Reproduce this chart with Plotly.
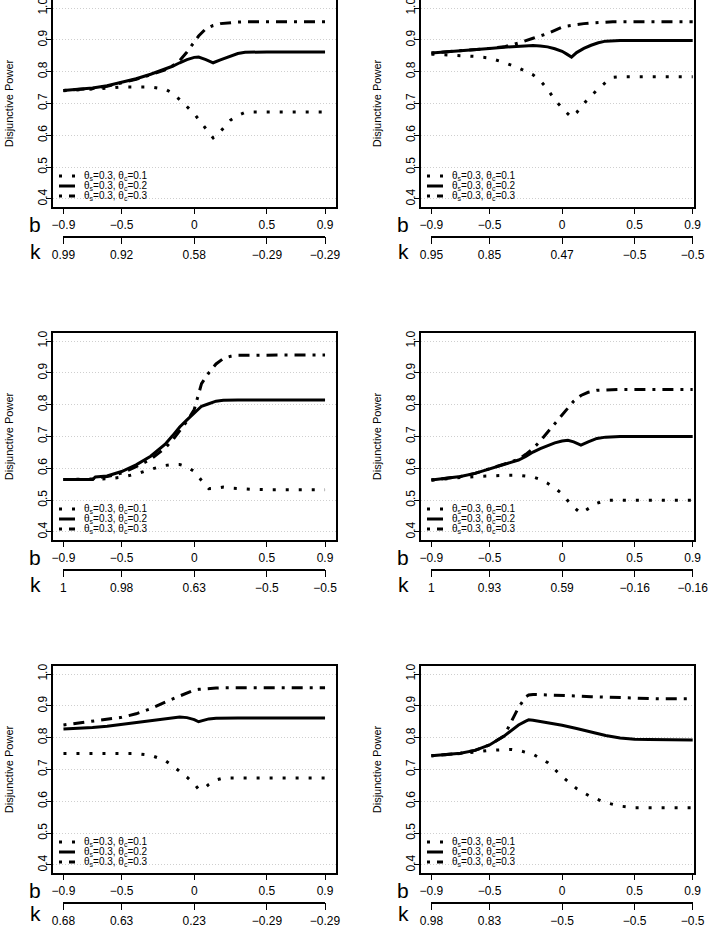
import plotly.graph_objects as go

W, H = 709, 927

# ---------------- data ----------------
B_TICKS = [-0.9, -0.5, 0, 0.5, 0.9]
B_LABELS = ["−0.9", "−0.5", "0", "0.5", "0.9"]
Y_TICKS = [0.4, 0.5, 0.6, 0.7, 0.8, 0.9, 1.0]
Y_LABELS = ["0.4", "0.5", "0.6", "0.7", "0.8", "0.9", "1.0"]

SERIES_NAMES = [
    "θ<sub>s</sub>=0.3, θ<sub>c</sub>=0.1",
    "θ<sub>s</sub>=0.3, θ<sub>c</sub>=0.2",
    "θ<sub>s</sub>=0.3, θ<sub>c</sub>=0.3",
]

# Panel 1
K1 = ["0.99", "0.92", "0.58", "−0.29", "−0.29"]
B1 = [-0.9, -0.8, -0.7, -0.6, -0.5, -0.4, -0.3, -0.2, -0.15, -0.1, -0.05, 0, 0.03, 0.08, 0.13, 0.18, 0.25, 0.3, 0.35, 0.4, 0.5, 0.6, 0.7, 0.8, 0.9]
DOT1 = [.740, .742, .745, .748, .752, .753, .752, .745, .733, .712, .690, .668, .650, .622, .592, .612, .648, .662, .672, .673, .673, .673, .673, .673, .673]
SOL1 = [.741, .744, .749, .756, .766, .778, .792, .808, .817, .828, .838, .845, .846, .838, .828, .837, .850, .857, .861, .862, .862, .862, .862, .862, .862]
DD1 = [.741, .744, .747, .754, .764, .776, .790, .806, .818, .835, .862, .893, .912, .935, .945, .951, .955, .956, .957, .957, .957, .957, .957, .957, .957]

# Panel 2
K2 = ["0.95", "0.85", "0.47", "−0.5", "−0.5"]
B2 = [-0.9, -0.8, -0.7, -0.6, -0.5, -0.4, -0.3, -0.2, -0.15, -0.1, -0.05, 0, 0.03, 0.065, 0.1, 0.15, 0.2, 0.25, 0.3, 0.35, 0.4, 0.5, 0.6, 0.7, 0.8, 0.9]
DOT2 = [.855, .853, .851, .848, .843, .829, .812, .790, .772, .745, .711, .685, .672, .657, .671, .700, .724, .747, .766, .782, .784, .784, .784, .784, .784, .784]
SOL2 = [.859, .862, .865, .869, .873, .877, .880, .882, .881, .878, .872, .864, .856, .846, .860, .873, .883, .891, .896, .898, .898, .898, .898, .898, .898, .898]
DD2 = [.859, .862, .865, .869, .873, .878, .890, .905, .912, .920, .930, .940, .943, .946, .948, .951, .953, .955, .956, .957, .957, .957, .957, .957, .957, .957]

# Panel 3
K3 = ["1", "0.98", "0.63", "−0.5", "−0.5"]
B3 = [-0.9, -0.8, -0.7, -0.68, -0.6, -0.5, -0.4, -0.3, -0.2, -0.15, -0.1, -0.05, 0, 0.05, 0.1, 0.15, 0.2, 0.25, 0.3, 0.4, 0.5, 0.6, 0.7, 0.8, 0.9]
DOT3 = [.565, .565, .565, .566, .567, .572, .582, .597, .609, .612, .612, .605, .590, .562, .536, .537, .541, .538, .536, .534, .533, .533, .533, .533, .533]
SOL3 = [.565, .565, .565, .573, .576, .590, .611, .638, .676, .702, .730, .752, .775, .795, .803, .811, .814, .815, .815, .815, .815, .815, .815, .815, .815]
DD3 = [.565, .565, .565, .570, .574, .585, .605, .628, .664, .688, .718, .748, .785, .866, .900, .928, .945, .952, .955, .956, .956, .956, .956, .956, .956]

# Panel 4
K4 = ["1", "0.93", "0.59", "−0.16", "−0.16"]
B4 = [-0.9, -0.8, -0.7, -0.6, -0.5, -0.4, -0.3, -0.25, -0.2, -0.15, -0.1, -0.05, 0, 0.04, 0.08, 0.13, 0.18, 0.24, 0.3, 0.35, 0.4, 0.5, 0.6, 0.7, 0.8, 0.9]
DOT4 = [.563, .568, .571, .574, .577, .578, .578, .576, .573, .565, .553, .538, .520, .498, .478, .459, .474, .490, .499, .500, .500, .500, .500, .500, .500, .500]
SOL4 = [.563, .568, .574, .584, .598, .612, .626, .637, .651, .662, .672, .680, .686, .688, .683, .673, .683, .694, .698, .700, .700, .700, .700, .700, .700, .700]
DD4 = [.563, .568, .574, .584, .598, .612, .628, .644, .662, .686, .714, .741, .767, .790, .811, .829, .839, .845, .847, .848, .848, .848, .848, .848, .848, .848]

# Panel 5
K5 = ["0.68", "0.63", "0.23", "−0.29", "−0.29"]
B5 = [-0.9, -0.8, -0.7, -0.6, -0.5, -0.4, -0.3, -0.2, -0.15, -0.1, -0.05, 0, 0.03, 0.07, 0.1, 0.15, 0.2, 0.25, 0.3, 0.4, 0.5, 0.6, 0.7, 0.8, 0.9]
DOT5 = [.750, .750, .750, .750, .750, .750, .745, .728, .712, .695, .676, .655, .638, .641, .653, .667, .673, .673, .673, .673, .673, .673, .673, .673, .673]
SOL5 = [.827, .829, .832, .836, .842, .848, .854, .859, .862, .865, .863, .857, .850, .855, .859, .861, .862, .862, .862, .862, .862, .862, .862, .862, .862]
DD5 = [.840, .846, .851, .856, .864, .875, .891, .912, .922, .932, .941, .950, .952, .954, .955, .956, .957, .957, .957, .957, .957, .957, .957, .957, .957]

# Panel 6
K6 = ["0.98", "0.83", "−0.5", "−0.5", "−0.5"]
B6 = [-0.9, -0.8, -0.7, -0.6, -0.5, -0.4, -0.35, -0.3, -0.25, -0.23, -0.2, -0.1, 0, 0.1, 0.2, 0.3, 0.4, 0.5, 0.6, 0.7, 0.8, 0.9]
DOT6 = [.743, .746, .750, .755, .760, .762, .763, .760, .755, .752, .748, .722, .678, .640, .614, .596, .585, .580, .580, .580, .580, .580]
SOL6 = [.743, .746, .751, .760, .777, .805, .822, .840, .852, .856, .855, .848, .839, .829, .818, .807, .799, .795, .794, .793, .793, .793]
DD6 = [.743, .746, .751, .760, .777, .805, .848, .895, .928, .934, .936, .935, .933, .931, .929, .927, .925, .923, .923, .922, .922, .922]

PANELS = [
    (B1, DOT1, SOL1, DD1, K1),
    (B2, DOT2, SOL2, DD2, K2),
    (B3, DOT3, SOL3, DD3, K3),
    (B4, DOT4, SOL4, DD4, K4),
    (B5, DOT5, SOL5, DD5, K5),
    (B6, DOT6, SOL6, DD6, K6),
]

# ---------------- styling / geometry ----------------
FONT = "Liberation Sans, Arial, sans-serif"
DASH_DOT = "3px,10px"
DASH_DASHDOT = "3px,7px,11px,7px"
LINE_W = 3.0
STYLES = [DASH_DOT, "solid", DASH_DASHDOT]

COL_L = [53.0, 421.0]
COL_R = [335.5, 694.0]
X_RANGE = [[-0.972, 0.972], [-0.972, 0.909]]
ROW_T = [0.4, 333.4, 666.4]
ROW_B = [206.6, 539.6, 872.6]
Y_RANGE = [0.376, 1.024]


def px_x(v):
    return v / W


def px_y(v):
    return 1 - v / H


fig = go.Figure()
layout = dict(
    width=W, height=H,
    margin=dict(l=0, r=0, t=0, b=0, autoexpand=False),
    paper_bgcolor="white", plot_bgcolor="rgba(0,0,0,0)",
    showlegend=False,
    font=dict(family=FONT, color="black", size=12),
)
shapes = []
annotations = []

for i, (bx, dot, sol, dd, klabels) in enumerate(PANELS):
    r, c = divmod(i, 2)
    xn = "" if i == 0 else str(i + 1)
    kn = str(i + 7)
    left, right = COL_L[c], COL_R[c]
    top, bottom = ROW_T[r], ROW_B[r]
    xr = X_RANGE[c]
    scale = (right - left) / (xr[1] - xr[0])
    x_m09 = left + (-0.9 - xr[0]) * scale
    x_p09 = left + (0.9 - xr[0]) * scale

    for s, (ys, dash) in enumerate(zip([dot, sol, dd], STYLES)):
        fig.add_trace(go.Scatter(
            x=bx, y=ys, mode="lines", name=SERIES_NAMES[s],
            line=dict(color="black", width=LINE_W, dash=dash),
            xaxis="x" + xn, yaxis="y" + xn, hoverinfo="skip",
        ))
    # empty trace so the k-scale axis gets its own (invisible) subplot
    fig.add_trace(go.Scatter(
        x=[], y=[], mode="lines", xaxis="x" + kn, yaxis="y" + kn,
        hoverinfo="skip", showlegend=False,
    ))

    layout["xaxis" + xn] = dict(
        domain=[px_x(left), px_x(right)], range=xr, anchor="y" + xn,
        tickmode="array", tickvals=B_TICKS, ticktext=B_LABELS,
        ticks="outside", ticklen=6, tickwidth=1.2, tickcolor="black",
        showline=True, mirror=True, linecolor="black", linewidth=1.5,
        showgrid=False, zeroline=False, tickfont=dict(size=12),
        ticklabeloverflow="allow", automargin=False, fixedrange=True,
    )
    layout["yaxis" + xn] = dict(
        domain=[px_y(bottom), px_y(top)], range=Y_RANGE, anchor="x" + xn,
        tickmode="array", tickvals=Y_TICKS, ticktext=Y_LABELS, tickangle=-90,
        ticks="outside", ticklen=5, tickwidth=1.2, tickcolor="black",
        ticklabelstandoff=-6, ticklabeloverflow="allow",
        showline=True, mirror=True, linecolor="black", linewidth=1.5,
        showgrid=True, gridcolor="#cfcfcf", griddash="1px,2px", gridwidth=1,
        zeroline=False, tickfont=dict(size=12),
        title=dict(text="Disjunctive Power", font=dict(size=11), standoff=21),
        automargin=False, fixedrange=True,
    )
    # k axis (secondary scale below the b axis)
    kpos = bottom + 29
    layout["xaxis" + kn] = dict(
        domain=[px_x(x_m09), px_x(x_p09)], range=[-0.9, 0.9], anchor="y" + kn,
        tickmode="array", tickvals=B_TICKS, ticktext=klabels,
        ticks="outside", ticklen=7, tickwidth=1.2, tickcolor="black",
        showline=True, linecolor="black", linewidth=1.5,
        showgrid=False, zeroline=False, tickfont=dict(size=12),
        ticklabeloverflow="allow", automargin=False, fixedrange=True,
    )
    layout["yaxis" + kn] = dict(
        domain=[px_y(kpos), px_y(kpos - 1)], anchor="x" + kn,
        visible=False, showgrid=False, zeroline=False,
        automargin=False, fixedrange=True,
    )

    annotations.append(dict(
        text="b", xref="paper", yref="paper", x=px_x(left - 18), y=px_y(bottom + 18),
        xanchor="center", yanchor="middle", showarrow=False, font=dict(size=21),
    ))
    if r < 2:
        annotations.append(dict(
            text="k", xref="paper", yref="paper", x=px_x(left - 18), y=px_y(bottom + 45),
            xanchor="center", yanchor="middle", showarrow=False, font=dict(size=21),
        ))
    else:
        annotations.append(dict(
            text="k", xref="paper", yref="paper", x=px_x(left - 18), y=0,
            xanchor="center", yanchor="bottom", showarrow=False, font=dict(size=21),
        ))

    # legend (bty = "n" style) inside lower-left of the box
    wbox = right - left
    hbox = bottom - top
    for s, dash in enumerate(STYLES):
        yy = (30.6 - 10 * s) / hbox
        shapes.append(dict(
            type="line", xref="x" + xn + " domain", yref="y" + xn + " domain",
            x0=6 / wbox, x1=22 / wbox, y0=yy, y1=yy,
            line=dict(color="black", width=LINE_W, dash=dash),
        ))
        annotations.append(dict(
            text=SERIES_NAMES[s], xref="x" + xn + " domain", yref="y" + xn + " domain",
            x=29 / wbox, y=yy, xanchor="left", yanchor="middle", showarrow=False,
            font=dict(size=10),
        ))

layout["shapes"] = shapes
layout["annotations"] = annotations
fig.update_layout(**layout)
fig.write_html("out.html")
